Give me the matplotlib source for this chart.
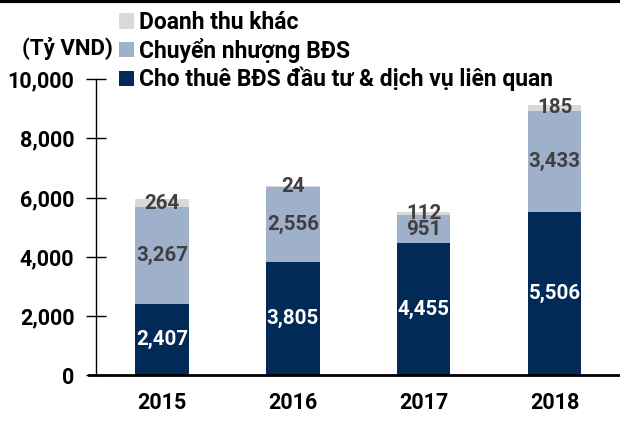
import matplotlib.pyplot as plt
from matplotlib.lines import Line2D

plt.rcParams['font.family'] = ['Roboto', 'DejaVu Sans']
plt.rcParams['font.weight'] = 'bold'

years = ['2015', '2016', '2017', '2018']
cho_thue = [2407, 3805, 4455, 5506]
chuyen_nhuong = [3267, 2556, 951, 3433]
khac = [264, 24, 112, 185]

series_names = ['Cho thuê BĐS đầu tư & dịch vụ liên quan', 'Chuyển nhượng BĐS', 'Doanh thu khác']
colors = ['#012a56', '#9fb0cb', '#d9d9d9']
label_colors = ['white', '#404040', '#404040']

fig = plt.figure(figsize=(6.2, 4.21), dpi=100)
ax = fig.add_axes([0.1435, 0.109, 0.8565, 0.703])

# spine position first: moving it resets the tick labels
for s in ['top', 'right']:
    ax.spines[s].set_visible(False)
ax.spines['left'].set_position(('data', -0.504))
ax.spines['left'].set_linewidth(1)
ax.spines['bottom'].set_linewidth(2)

x = range(len(years))
bottom = [0] * len(years)
handles = []
for vals, name, c, lc in zip([cho_thue, chuyen_nhuong, khac], series_names, colors, label_colors):
    bars = ax.bar(x, vals, width=0.41, bottom=bottom, color=c, label=name, zorder=2)
    handles.append(bars)
    for xi, v, b in zip(x, vals, bottom):
        ax.text(xi, b + v / 2, f'{v:,}', ha='center', va='center', color=lc,
                fontsize=14.8, fontweight='bold', zorder=3)
    bottom = [b + v for b, v in zip(bottom, vals)]

ax.set_xlim(-0.557, 3.5)
ax.set_ylim(0, 10000)
ax.set_yticks(range(0, 10001, 2000))
ax.set_yticklabels([f'{t:,}' for t in range(0, 10001, 2000)], fontsize=15.5, fontweight='bold')
ax.set_xticks(list(x))
ax.set_xticklabels(years, fontsize=15.5, fontweight='bold')
ax.tick_params(axis='x', length=0, pad=12)
ax.tick_params(axis='y', direction='inout', length=15, width=1, pad=8)

leg = fig.legend(handles[::-1], series_names[::-1], loc='upper left',
                 bbox_to_anchor=(0.166, 1.012), frameon=False, fontsize=16.5,
                 handlelength=0.65, handleheight=0.65, handletextpad=0.22,
                 labelspacing=0.17, borderaxespad=0.3)
for t in leg.get_texts():
    t.set_fontweight('bold')

fig.text(0.035, 0.885, '(Tỷ VND)', fontsize=16, fontweight='bold', va='center')
fig.add_artist(Line2D([0, 1], [0.997, 0.997], color='black', lw=3, transform=fig.transFigure))

fig.savefig('out.png', dpi=100)
